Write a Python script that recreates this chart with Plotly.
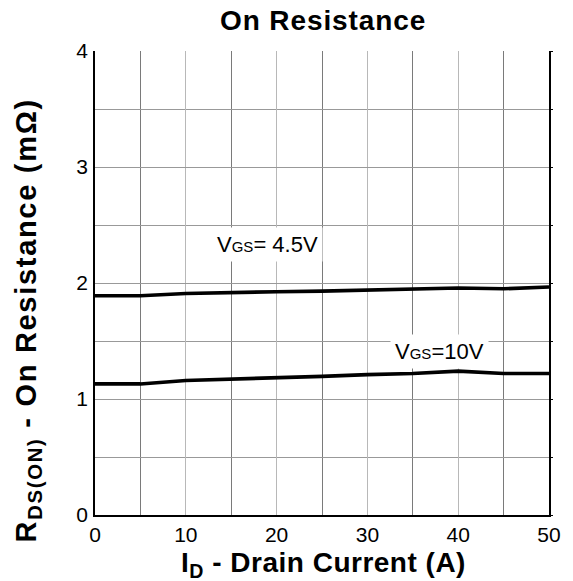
import plotly.graph_objects as go

# Data
drain_current = [0, 5, 10, 15, 20, 25, 30, 35, 40, 45, 50]
rds_vgs_4p5 = [1.89, 1.89, 1.91, 1.92, 1.925, 1.93, 1.94, 1.95, 1.957, 1.95, 1.965]
rds_vgs_10 = [1.13, 1.13, 1.16, 1.17, 1.18, 1.195, 1.21, 1.22, 1.24, 1.22, 1.22]
x_ticks = [0, 10, 20, 30, 40, 50]
y_ticks = [0, 1, 2, 3, 4]

FONT = "Arial, Liberation Sans, sans-serif"

fig = go.Figure()
fig.add_trace(go.Scatter(x=drain_current, y=rds_vgs_4p5, mode="lines",
                         line=dict(color="black", width=3.6), showlegend=False))
fig.add_trace(go.Scatter(x=drain_current, y=rds_vgs_10, mode="lines",
                         line=dict(color="black", width=3.6), showlegend=False))
# invisible trace for right-side ticks
fig.add_trace(go.Scatter(x=[None], y=[None], yaxis="y2", showlegend=False))

fig.update_layout(
    width=573, height=581,
    margin=dict(l=95, r=22, t=51, b=66),
    paper_bgcolor="white", plot_bgcolor="white",
    font=dict(family=FONT, color="black"),
    xaxis=dict(range=[0, 50], tickvals=x_ticks, ticktext=[str(v) for v in x_ticks],
               showgrid=True, gridcolor="#b8b8b8", gridwidth=1.2,
               minor=dict(dtick=5, showgrid=True, gridcolor="#7a7a7a", gridwidth=1.2, ticks=""),
               showline=True, linecolor="black", linewidth=1.5, mirror=False,
               ticks="", tickfont=dict(size=21, family=FONT), zeroline=False, fixedrange=True),
    yaxis=dict(range=[0, 4], tickvals=y_ticks, ticktext=[str(v) for v in y_ticks],
               showgrid=True, gridcolor="#999999", gridwidth=1.2,
               minor=dict(dtick=0.5, showgrid=True, gridcolor="#999999", gridwidth=1.2, ticks=""),
               showline=True, linecolor="black", linewidth=1.5, mirror=True,
               ticks="", ticklabelstandoff=1, tickfont=dict(size=21, family=FONT),
               zeroline=False, fixedrange=True),
    yaxis2=dict(range=[0, 4], overlaying="y", side="right", dtick=0.5, ticks="outside",
                ticklen=3, tickcolor="black", showticklabels=False, showgrid=False,
                zeroline=False, showline=False, fixedrange=True),
    annotations=[
        dict(text="<span style='letter-spacing:0.9px'><b>On Resistance</b></span>",
             xref="paper", yref="paper", x=0.503, y=1.066,
             xanchor="center", yanchor="middle", showarrow=False,
             font=dict(size=28, family=FONT)),
        dict(text="<span style='letter-spacing:0.5px'><b>I<sub>D</sub> - Drain Current (A)</b></span>",
             xref="paper", yref="paper",
             x=0.503, y=-0.106, xanchor="center", yanchor="middle", showarrow=False,
             font=dict(size=28, family=FONT)),
        dict(text="<span style='letter-spacing:1.7px'><b>R<sub>DS(ON)</sub> - On Resistance (mΩ)</b></span>",
             xref="paper", yref="paper",
             x=-0.147, y=0.42, xanchor="center", yanchor="middle", textangle=-90,
             showarrow=False, font=dict(size=29, family=FONT)),
        dict(text="V<span style='font-size:15px'>GS</span>= 4.5V", xref="x", yref="y",
             x=19.0, y=2.33, xanchor="center", yanchor="middle", showarrow=False,
             bgcolor="white", borderpad=4, font=dict(size=22, family=FONT)),
        dict(text="V<span style='font-size:15px'>GS</span>=10V", xref="x", yref="y",
             x=37.9, y=1.41, xanchor="center", yanchor="middle", showarrow=False,
             bgcolor="white", borderpad=4, font=dict(size=22, family=FONT)),
    ],
)

fig.write_html("out.html", config={"displayModeBar": False},
               post_script="document.body.style.margin='0';")
